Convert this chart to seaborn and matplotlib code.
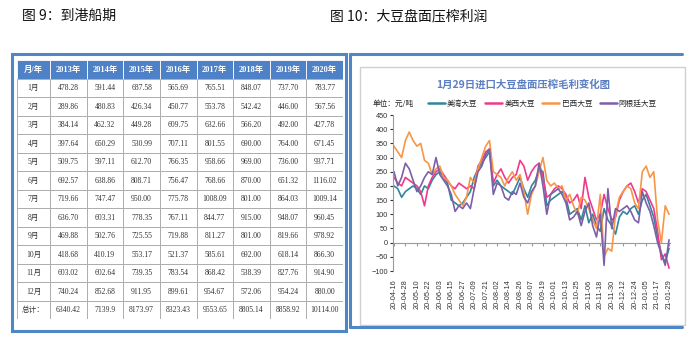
import numpy as np
import pandas as pd
import matplotlib
matplotlib.use("Agg")
import matplotlib.pyplot as plt
import matplotlib.dates as mdates
from matplotlib.patches import Rectangle
from matplotlib.lines import Line2D
import seaborn as sns

sns.set_style("white")
plt.rcParams['font.family'] = ['Noto Sans CJK SC', 'DejaVu Sans']

# ---------------- table data (Fig 9) ----------------
table_header = ["月/年", "2013年", "2014年", "2015年", "2016年", "2017年", "2018年", "2019年", "2020年"]
row_labels = ["1月", "2月", "3月", "4月", "5月", "6月", "7月", "8月", "9月", "10月", "11月", "12月", "总计："]
v2013 = ["478.28", "289.86", "384.14", "397.64", "509.75", "692.57", "719.66", "636.70", "469.88", "418.68", "603.02", "740.24", "6340.42"]
v2014 = ["591.44", "480.83", "462.32", "650.29", "597.11", "638.86", "747.47", "603.31", "502.76", "410.19", "602.64", "852.68", "7139.9"]
v2015 = ["687.58", "426.34", "449.28", "530.99", "612.70", "808.71", "950.00", "778.35", "725.55", "553.17", "739.35", "911.95", "8173.97"]
v2016 = ["565.69", "450.77", "609.75", "707.11", "766.35", "756.47", "775.78", "767.11", "719.88", "521.37", "783.54", "899.61", "8323.43"]
v2017 = ["765.51", "553.78", "632.66", "801.55", "958.66", "768.66", "1008.09", "844.77", "811.27", "585.61", "868.42", "954.67", "9553.65"]
v2018 = ["848.07", "542.42", "566.20", "690.00", "969.00", "870.00", "801.00", "915.00", "801.00", "692.00", "538.39", "572.06", "8805.14"]
v2019 = ["737.70", "446.00", "492.00", "764.00", "736.00", "651.32", "864.03", "948.07", "819.66", "618.14", "827.76", "954.24", "8858.92"]
v2020 = ["783.77", "567.56", "427.78", "671.45", "937.71", "1116.02", "1009.14", "960.45", "978.92", "866.30", "914.90", "880.00", "10114.00"]
year_cols = [v2013, v2014, v2015, v2016, v2017, v2018, v2019, v2020]

# ---------------- line chart data (Fig 10) ----------------
start_date = "2020-04-16"
step_days = 4
us_gulf = [200, 190, 160, 180, 190, 200, 190, 170, 200, 190,
           220, 240, 250, 230, 210, 150, 140, 130, 140, 160,
           180, 230, 260, 280, 300, 320, 200, 220, 200, 190,
           180, 170, 200, 230, 190, 160, 200, 220, 260, 250,
           130, 150, 160, 170, 180, 160, 100, 110, 120, 80,
           130, 70, 100, 60, 40, 120, 80, 60, 30, 90,
           110, 100, 120, 130, 100, 150, 170, 130, 90, 20,
           -40, -70, -20]
us_west = [230, 210, 200, 230, 220, 210, 200, 180, 130, 200,
           230, 250, 260, 240, 220, 200, 190, 210, 200, 190,
           200, 190, 270, 290, 320, 330, 210, 240, 260, 230,
           210, 230, 240, 290, 270, 220, 250, 270, 280, 230,
           160, 170, 190, 200, 190, 170, 140, 150, 170, 120,
           230, 160, 120, 80, 100, 170, 120, 80, 90, 150,
           180, 200, 210, 180, 140, 190, 180, 150, 120, 40,
           -60, -40, -90]
brazil = [340, 320, 300, 360, 390, 360, 340, 350, 290, 280,
          240, 260, 270, 230, 220, 200, 170, 150, 130, 160,
          230, 210, 260, 300, 340, 360, 250, 240, 230, 200,
          230, 250, 220, 240, 180, 100, 170, 200, 250, 300,
          220, 200, 210, 190, 200, 150, 170, 130, 100, 160,
          150, 120, 80, 50, 170, -50, -20, -30, 100, 160,
          180, 200, 190, 140, 120, 250, 270, 230, 250, 80,
          0, 130, 100]
argentina = [250, 200, 230, 280, 260, 220, 180, 200, 230, 250,
             240, 300, 240, 220, 200, 170, 110, 130, 120, 140,
             120, 190, 250, 270, 310, 330, 170, 210, 200, 160,
             150, 180, 170, 210, 160, 140, 180, 200, 280, 200,
             100, 170, 180, 190, 170, 140, 80, 90, 110, 60,
             110, 140, 60, 20, 100, -80, 190, 50, 120, 110,
             120, 130, 110, 80, 70, 180, 140, 110, 60, 0,
             -40, -80, 10]
series_names = ["美湾大豆", "美西大豆", "巴西大豆", "阿根廷大豆"]
series_colors = ["#31859c", "#ee3a8c", "#f79646", "#7d5fa8"]

dates = pd.date_range(start_date, periods=len(us_gulf), freq=f"{step_days}D")
df = pd.concat([pd.DataFrame({"date": dates, "value": vals, "series": name})
                for name, vals in zip(series_names, [us_gulf, us_west, brazil, argentina])])

W, H = 699, 337
fig = plt.figure(figsize=(W / 100, H / 100), dpi=100)

def fx(px):
    return px / W

def fy(py):
    return 1 - py / H

# headings
fig.text(fx(22), fy(16), "图 9：到港船期", fontsize=10, va="center", ha="left", color="#111111")
fig.text(fx(330), fy(16), "图 10：大豆盘面压榨利润", fontsize=10, va="center", ha="left", color="#111111")

# panel frames
blue = "#4f86c6"
fig.add_artist(Rectangle((fx(12), fy(331)), fx(346) - fx(12), fy(54) - fy(331),
                         transform=fig.transFigure, fill=False, edgecolor=blue, lw=2.2))
for (x0, y0, x1, y1) in [(350, 54, 682, 54), (350, 54, 350, 327), (350, 327, 682, 327)]:
    fig.add_artist(Line2D([fx(x0), fx(x1)], [fy(y0), fy(y1)], transform=fig.transFigure,
                          color=blue, lw=2.2))
fig.add_artist(Rectangle((fx(360), fy(325)), fx(685) - fx(360), fy(67) - fy(325),
                         transform=fig.transFigure, fill=False, edgecolor="#d0d0d0", lw=1))

# ---------------- table ----------------
tx0, ty0, tx1, ty1 = 17, 60, 343, 319
tax = fig.add_axes([fx(tx0), fy(ty1), fx(tx1) - fx(tx0), fy(ty0) - fy(ty1)])
tw = tx1 - tx0
first_w = 33
col_w = (tw - first_w) / 8
nrows = len(row_labels) + 1
tax.set_xlim(0, tw)
tax.set_ylim(nrows, 0)
tax.axis("off")
col_edges = [0, first_w] + [first_w + col_w * (k + 1) for k in range(8)]
tfont = ['Liberation Serif', 'Noto Sans CJK SC']
for c in range(9):
    xa, xb = col_edges[c], col_edges[c + 1]
    tax.add_patch(Rectangle((xa, 0), xb - xa, 1, facecolor="#4f81c7", edgecolor="#ffffff", lw=0.6))
    tax.text((xa + xb) / 2, 0.52, table_header[c], ha="center", va="center", color="white",
             fontsize=6, fontweight="bold", family=tfont)
    for r in range(len(row_labels)):
        tax.add_patch(Rectangle((xa, r + 1), xb - xa, 1, facecolor="white", edgecolor="#a6a6a6", lw=0.6))
        txt = row_labels[r] if c == 0 else year_cols[c - 1][r]
        tax.text((xa + xb) / 2, r + 1.52, txt, ha="center", va="center", color="#333333",
                 fontsize=5.5, family=tfont)

# ---------------- line chart ----------------
ax = fig.add_axes([fx(393), fy(271), fx(670) - fx(393), fy(115) - fy(271)])
sns.lineplot(data=df, x="date", y="value", hue="series", hue_order=series_names,
             palette=series_colors, lw=1.2, ax=ax, legend=False)
ax.set_ylim(-100, 450)
ax.set_yticks(np.arange(-100, 451, 50))
x_start = pd.Timestamp(start_date)
x_end = dates[-1]
ax.set_xlim(x_start - pd.Timedelta(days=1), x_end + pd.Timedelta(days=1))
ticks = pd.date_range(x_start, x_end, freq="12D")
ax.set_xticks(ticks)
ax.xaxis.set_major_formatter(mdates.DateFormatter("%y-%m-%d"))
ax.tick_params(axis="x", length=0, labelsize=5.3, labelrotation=90, pad=6, colors="#333333")
ax.tick_params(axis="y", length=2, labelsize=5.3, pad=1.5, colors="#333333", left=True)
for lab in ax.get_yticklabels() + ax.get_xticklabels():
    lab.set_family(['Liberation Sans', 'DejaVu Sans'])
ax.set_xlabel("")
ax.set_ylabel("")
for s in ["top", "right", "bottom"]:
    ax.spines[s].set_visible(False)
ax.spines["left"].set_color("#9a9a9a")
ax.spines["left"].set_linewidth(0.8)
ax.patch.set_alpha(0)

sec = ax.secondary_xaxis(100 / 550)
sec.set_xticks(ticks)
sec.tick_params(axis="x", length=2, labelbottom=False, color="#9a9a9a")
sec.spines["bottom"].set_color("#9a9a9a")
sec.spines["bottom"].set_linewidth(0.8)

# chart title and legend
fig.text(fx(523), fy(85), "1月29日进口大豆盘面压榨毛利变化图", ha="center", va="center",
         fontsize=7.5, color="#5b7fc2", fontweight="bold")
fig.text(fx(373), fy(104), "单位：元/吨", ha="left", va="center", fontsize=5.5, color="#222222")
handles = [Line2D([0], [0], color=c, lw=1.8) for c in series_colors]
fig.legend(handles, series_names, loc="center left", bbox_to_anchor=(fx(428), fy(104)),
           ncol=4, frameon=False, fontsize=5.5, handlelength=2.2, handletextpad=0.3,
           columnspacing=1.0, borderaxespad=0, borderpad=0)

fig.savefig("out.png", dpi=100)
